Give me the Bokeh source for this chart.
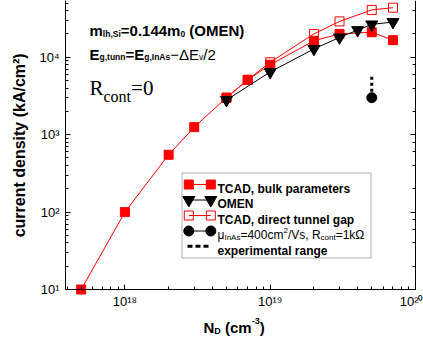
import math
from bokeh.plotting import figure
from bokeh.models import Label, BoxAnnotation, CustomJSTickFormatter, LogAxis, Range1d
from bokeh.embed import file_html
from bokeh.resources import INLINE

# ---------------- data ----------------
nd_bulk = [5e17, 1e18, 2e18, 3e18, 5e18, 7e18, 1e19, 2e19, 3e19, 5e19, 7e19]
j_bulk = [10, 100, 550, 1250, 3000, 5100, 8000, 16300, 20000, 21000, 16600]

nd_omen = [5e18, 1e19, 2e19, 3e19, 4e19, 5e19, 7e19]
j_omen = [2800, 6450, 12800, 18000, 22400, 26500, 28500]

nd_direct = [5e18, 7e18, 1e19, 2e19, 3e19, 5e19, 7e19]
j_direct = [3000, 5100, 8600, 20000, 29000, 40800, 43600]

nd_mu = [5e19]
j_mu = [3000]

nd_exp = [5e19, 5e19]
j_exp = [3000, 6000]

legend_labels = ["TCAD, bulk parameters", "OMEN", "TCAD, direct tunnel gap",
                 "experimental range"]

# ---------------- layout ----------------
W, H = 423, 343
MB_L = 65
XA, XB = 3.9e17, 1e20          # x axis limits
YA, YT = 10, 5.4e4             # y axis limits
AXIS_PX_X = 415                # canvas column of the right axis line
AXIS_PX_Y = 289                # canvas row of the bottom axis line
# the frame reaches the canvas edges so titles/labels beyond the axes stay visible
xdec = (AXIS_PX_X - MB_L) / (math.log10(XB) - math.log10(XA))
X1 = 10 ** (math.log10(XB) + (W - AXIS_PX_X) / xdec)
ydec = AXIS_PX_Y / (math.log10(YT) - math.log10(YA))
Y0 = 10 ** (math.log10(YA) - (H - AXIS_PX_Y) / ydec)

p = figure(width=W, height=H, x_axis_type="log", y_axis_type="log",
           x_range=Range1d(XA, X1), y_range=Range1d(Y0, YT),
           output_backend="svg", toolbar_location=None,
           min_border_left=MB_L, min_border_right=0,
           min_border_top=0, min_border_bottom=0)
p.outline_line_color = None
p.grid.grid_line_color = None
p.background_fill_color = "white"
p.border_fill_color = "white"

FL, FR, FT, FB = MB_L, W, 0, H
lx0, lx1 = math.log10(XA), math.log10(X1)
ly0, ly1 = math.log10(Y0), math.log10(YT)


def X(px):
    return 10 ** (lx0 + (px - FL) / (FR - FL) * (lx1 - lx0))


def Y(py):
    return 10 ** (ly0 + (FB - py) / (FB - FT) * (ly1 - ly0))


sup_code = """
const s = {'0':'\u2070','1':'\u00b9','2':'\u00b2','3':'\u00b3','4':'\u2074','5':'\u2075',
           '6':'\u2076','7':'\u2077','8':'\u2078','9':'\u2079','-':'\u207b'};
const e = Math.round(Math.log10(tick));
return '10' + String(e).split('').map(c => s[c]).join('');
"""

FONT = "Liberation Sans"
for ax in (p.xaxis[0], p.yaxis[0]):
    ax.formatter = CustomJSTickFormatter(code=sup_code)
    ax.major_label_text_font = FONT
    ax.major_label_text_font_size = "13px"
    ax.major_label_text_color = "black"
    ax.axis_line_color = "black"
    ax.major_tick_line_color = "black"
    ax.minor_tick_line_color = "black"
    ax.major_tick_in = 5
    ax.major_tick_out = 0
    ax.minor_tick_in = 3
    ax.minor_tick_out = 0
p.xaxis.fixed_location = YA
p.xaxis.bounds = (XA, XB)
p.xaxis.major_label_standoff = 4
p.yaxis.bounds = (YA, YT)
p.yaxis.major_label_standoff = 6

# axis title is centred on the (taller) frame: leading no-break spaces lift it
p.yaxis.axis_label = "\u00a0" * 12 + "current density (kA/cm\u00b2)"
p.yaxis.axis_label_text_font = FONT
p.yaxis.axis_label_text_font_style = "bold"
p.yaxis.axis_label_text_font_size = "16px"
p.yaxis.axis_label_text_color = "black"
p.yaxis.axis_label_standoff = 8

rax = LogAxis(formatter=CustomJSTickFormatter(code="return '';"), bounds=(YA, YT),
              fixed_location=XB,
              major_label_standoff=0, major_label_text_font_size="0px",
              major_tick_in=5, major_tick_out=0, minor_tick_in=3, minor_tick_out=0,
              axis_line_color="black", major_tick_line_color="black",
              minor_tick_line_color="black")
p.add_layout(rax, "right")

RED = "#ff0000"

# ---------------- data series ----------------
p.line(nd_bulk, j_bulk, line_color=RED, line_width=1)
p.scatter(nd_bulk, j_bulk, marker="square", size=9, fill_color=RED, line_color=RED)

p.line(nd_direct, j_direct, line_color=RED, line_width=1)
p.scatter(nd_direct, j_direct, marker="square", size=9, fill_alpha=0,
          line_color=RED, line_width=1)

p.line(nd_omen, j_omen, line_color="black", line_width=1)
p.scatter(nd_omen, j_omen, marker="inverted_triangle", size=12,
          fill_color="black", line_color="black")

p.line(nd_exp, j_exp, line_color="black", line_width=3, line_dash="3 3")
p.scatter(nd_mu, j_mu, marker="circle", size=10, fill_color="black", line_color="black")

# ---------------- rich text helper ----------------
AR = {' ': 278, '(': 333, ')': 333, ',': 278, '.': 278, '/': 278, '=': 584, '\u2212': 584,
      '-': 333, 'A': 667, 'C': 722, 'D': 722, 'E': 667, 'I': 278, 'M': 833, 'N': 722,
      'O': 778, 'R': 722, 'S': 667, 'T': 611, 'V': 667, 'a': 556, 'c': 500, 'e': 556,
      'g': 556, 'h': 556, 'i': 222, 'k': 500, 'l': 222, 'm': 833, 'n': 556, 'o': 556,
      'p': 556, 'r': 333, 's': 500, 't': 278, 'u': 556, 'v': 500, '\u03bc': 576,
      '\u03a9': 768, '\u0394': 668}
AB = {' ': 278, '(': 333, ')': 333, ',': 278, '.': 278, '/': 278, '=': 584, '\u2212': 584,
      '-': 333, 'A': 722, 'C': 722, 'D': 722, 'E': 667, 'I': 278, 'M': 833, 'N': 722,
      'O': 778, 'R': 722, 'S': 667, 'T': 611, 'V': 667, 'a': 556, 'b': 611, 'c': 556,
      'd': 611, 'e': 556, 'g': 611, 'h': 611, 'i': 278, 'k': 556, 'l': 278, 'm': 889,
      'n': 611, 'o': 611, 'p': 611, 'r': 389, 's': 556, 't': 333, 'u': 611, 'v': 556,
      'x': 556, 'y': 556}
TR = {'R': 667, 'c': 444, 'o': 500, 'n': 500, 't': 278, '=': 564, '0': 500}


def tw(s, size, style, serif):
    tab = TR if serif else (AB if style == "bold" else AR)
    return sum(tab.get(c, 556 if not serif else 500) for c in s) * size / 1000.0


def rich(x, base, pieces):
    for (txt, size, style, dy, serif) in pieces:
        lead = len(txt) - len(txt.lstrip(" "))
        if lead:
            x += tw(" " * lead, size, style, serif)
            txt = txt.lstrip(" ")
        p.add_layout(Label(x=X(x), y=Y(base + dy), text=txt,
                           text_font="Liberation Serif" if serif else FONT,
                           text_font_size=f"{size}px", text_font_style=style,
                           text_color="black", text_align="left",
                           text_baseline="alphabetic"))
        x += tw(txt, size, style, serif)


B, N = "bold", "normal"
rich(89, 30, [("m", 15, B, 0, False), ("lh,Si", 8.5, B, 3, False),
              ("=0.144m", 15, B, 0, False), ("0", 8.5, B, 3, False),
              (" (OMEN)", 15, B, 0, False)])
rich(89, 53.5, [("E", 15, B, 0, False), ("g,tunn", 8.5, B, 3, False),
                ("=E", 15, B, 0, False), ("g,InAs", 8.5, B, 3, False),
                ("\u2212\u0394E", 15, N, 0, False), ("v", 8.5, N, 3, False),
                ("/2", 15, N, 0, False)])
rich(89, 87, [("R", 21, N, 0, True), ("cont", 16, N, 9, True), ("=0", 21, N, 0, True)])

# x-axis title
rich(203, 327, [("N", 15, B, 0, False), ("D", 9, B, 3, False), (" (cm", 15, B, 0, False),
                ("-3", 9, B, -7, False), (")", 15, B, 0, False)])

# ---------------- legend ----------------
p.add_layout(BoxAnnotation(left=X(181.5), right=X(370.5), top=Y(172.5), bottom=Y(257.5),
                           fill_color="white", fill_alpha=1, line_color="black",
                           line_width=1, level="underlay"))
rows = [184, 199.5, 215, 230.5, 245.7]
lx = [X(188.3), X(210.3)]


def swatch(row, marker=None, size=10, fill=RED, line=RED, dash="solid", lw=1):
    yy = [Y(row), Y(row)]
    p.line(lx, yy, line_color=line, line_width=lw, line_dash=dash)
    if marker:
        p.scatter(lx, yy, marker=marker, size=size, fill_color=fill, line_color=line,
                  fill_alpha=0 if fill is None else 1)


swatch(rows[0], "square", 9, RED, RED)
swatch(rows[1], "inverted_triangle", 12, "black", "black")
swatch(rows[2], "square", 9, None, RED)
swatch(rows[3], "circle", 10, "black", "black")
p.line([X(187), X(211)], [Y(rows[4]), Y(rows[4])], line_color="black", line_width=3,
       line_dash="5 3")

TX = 217
rich(TX, rows[0] + 4.3, [(legend_labels[0], 12, B, 0, False)])
rich(TX, rows[1] + 4.3, [(legend_labels[1], 12, B, 0, False)])
rich(TX, rows[2] + 4.3, [(legend_labels[2], 12, B, 0, False)])
rich(TX, rows[3] + 4.3, [("\u03bc", 12, N, 0, False), ("InAs", 8, N, 2.5, False),
                         ("=400cm", 12, N, 0, False), ("2", 8, N, -5, False),
                         ("/Vs, R", 12, N, 0, False), ("cont", 8, N, 2.5, False),
                         ("=1k\u03a9", 12, N, 0, False)])
rich(TX, rows[4] + 4.3, [(legend_labels[3], 12, B, 0, False)])

open("out.html", "w").write(file_html(p, INLINE))
